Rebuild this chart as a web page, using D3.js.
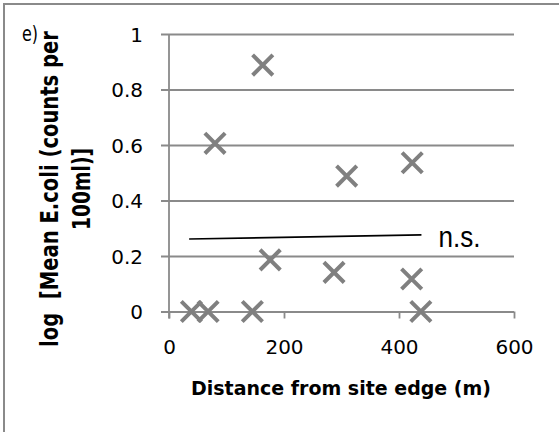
<!DOCTYPE html>
<html>
<head>
<meta charset="utf-8">
<script src="https://cdn.jsdelivr.net/npm/d3@7.9.0/dist/d3.min.js"></script>
<style>
  html, body { margin: 0; padding: 0; background: #fff; }
  svg { display: block; }
  text { white-space: pre; }
</style>
</head>
<body>
<svg id="chart" width="559" height="432"></svg>
<script>
// distance from site edge (m) and log mean E.coli
const distance = [39, 68, 145, 163, 80, 176, 287, 309, 423, 422, 438];
const logEcoli = [0, 0, 0, 0.888, 0.606, 0.186, 0.141, 0.488, 0.536, 0.117, 0];

// linear trend (not significant), end points
const trendX = [35, 439];
const trendY = [0.261, 0.276];

const xTicks = [0, 200, 400, 600];
const yTicks = [0, 0.2, 0.4, 0.6, 0.8, 1];

const svg = d3.select("#chart");
const W = 559, H = 432;

const x = d3.scaleLinear().domain([0, 600]).range([169, 514]);
const y = d3.scaleLinear().domain([0, 1]).range([311.5, 34]);

const grey = "#8a8a8a";
const font = "'DejaVu Sans', Verdana, sans-serif";

// frame (top and left edges)
svg.append("path")
  .attr("d", `M4,${H}V4H${W}`)
  .attr("fill", "none")
  .attr("stroke", grey)
  .attr("stroke-width", 2);

// y gridlines + labels
const yAxis = svg.append("g")
  .attr("transform", `translate(${x(600)},0)`)
  .call(d3.axisLeft(y).tickValues(yTicks).tickFormat(d3.format("~g"))
    .tickSizeInner(x(600) - 161).tickSizeOuter(0).tickPadding(18));
yAxis.select(".domain").remove();
yAxis.selectAll(".tick line").attr("stroke", grey).attr("stroke-width", 1.8);
yAxis.selectAll(".tick text")
  .attr("font-family", font).attr("font-size", 20).attr("fill", "#000")
  .attr("dy", "0.36em");

// x axis ticks + labels
const xAxis = svg.append("g")
  .attr("transform", `translate(0,${y(0)})`)
  .call(d3.axisBottom(x).tickValues(xTicks).tickFormat(d3.format("d"))
    .tickSizeInner(7).tickSizeOuter(0).tickPadding(21));
xAxis.select(".domain").remove();
xAxis.selectAll(".tick line").attr("stroke", grey).attr("stroke-width", 1.8);
xAxis.selectAll(".tick text")
  .attr("font-family", font).attr("font-size", 20).attr("fill", "#000");

// vertical axis line
svg.append("line")
  .attr("x1", x(0)).attr("x2", x(0))
  .attr("y1", y(1)).attr("y2", y(0) + 7)
  .attr("stroke", grey).attr("stroke-width", 1.8);

// trend line
svg.append("path")
  .datum(d3.zip(trendX, trendY))
  .attr("d", d3.line().x(d => x(d[0])).y(d => y(d[1])))
  .attr("fill", "none")
  .attr("stroke", "#000")
  .attr("stroke-width", 1.6);

svg.append("text")
  .attr("x", x(trendX[1]) + 17).attr("y", y(trendY[1]) + 12)
  .attr("font-family", "'Liberation Sans', Arial, sans-serif")
  .attr("font-size", 29)
  .attr("textLength", 42).attr("lengthAdjust", "spacingAndGlyphs")
  .text("n.s.");

// points
const cross = d3.symbol().type(d3.symbolTimes).size(270);
svg.append("g").selectAll("path")
  .data(d3.zip(distance, logEcoli))
  .join("path")
  .attr("transform", d => `translate(${x(d[0])},${y(d[1])})`)
  .attr("d", cross)
  .attr("fill", "none")
  .attr("stroke", "#808080")
  .attr("stroke-width", 4);

// panel letter
svg.append("text")
  .attr("x", 22).attr("y", 41)
  .attr("font-family", font).attr("font-size", 21)
  .attr("textLength", 16).attr("lengthAdjust", "spacingAndGlyphs")
  .text("e)");

// axis titles
svg.append("text")
  .attr("x", 341).attr("y", 395)
  .attr("text-anchor", "middle")
  .attr("font-family", font).attr("font-weight", "bold").attr("font-size", 19)
  .text("Distance from site edge (m)");

const yTitle = svg.append("g")
  .attr("transform", "translate(0,189) rotate(-90)")
  .attr("font-family", font).attr("font-weight", "bold").attr("font-size", 24)
  .attr("text-anchor", "middle");
yTitle.append("text")
  .attr("x", 0).attr("y", 58)
  .attr("textLength", 316).attr("lengthAdjust", "spacingAndGlyphs")
  .text("log  [Mean E.coli (counts per");
yTitle.append("text")
  .attr("x", 0).attr("y", 90)
  .attr("textLength", 82).attr("lengthAdjust", "spacingAndGlyphs")
  .text("100ml)]");
</script>
</body>
</html>
